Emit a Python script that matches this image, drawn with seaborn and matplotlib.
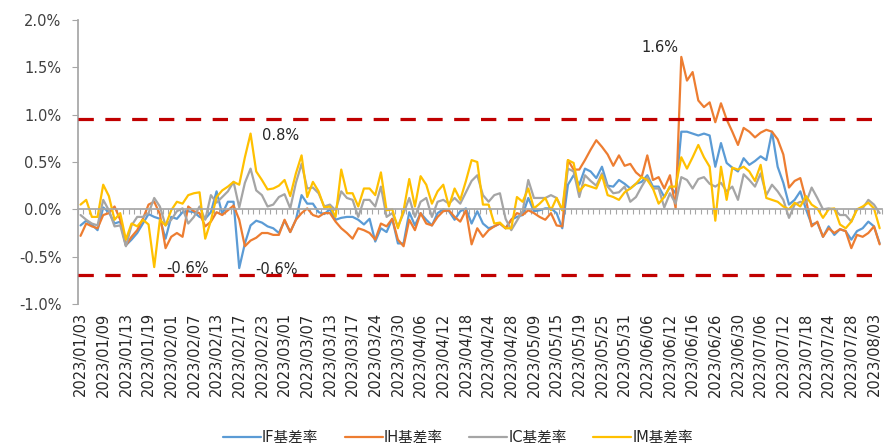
import numpy as np
import pandas as pd
import matplotlib
matplotlib.use("Agg")
import matplotlib.pyplot as plt
import seaborn as sns

sns.set_theme(style="white")
plt.rcParams["font.family"] = ["DejaVu Sans", "Noto Sans CJK SC"]

# ------------------------------------------------------------
# Data: daily basis rate (%) of the four index futures
# ------------------------------------------------------------
HOLIDAYS = ["2023-01-23", "2023-01-24", "2023-01-25", "2023-01-26", "2023-01-27",
            "2023-03-22",  # no record in the source table
            "2023-04-05", "2023-05-01", "2023-05-02", "2023-05-03",
            "2023-06-22", "2023-06-23"]
DATES = [d for d in pd.bdate_range("2023-01-03", "2023-08-04")
         if d.strftime("%Y-%m-%d") not in HOLIDAYS]

IF_BASIS = [
    -0.17, -0.12, -0.16, -0.22, 0.02, -0.03, -0.15, -0.13, -0.38, -0.32, -0.25, -0.15,
    -0.05, -0.08, -0.10, -0.31, -0.08, -0.10, -0.03, -0.02, -0.03, -0.08, -0.10,
    -0.03, 0.19, -0.05, 0.08, 0.08, -0.62, -0.36, -0.17, -0.12, -0.14, -0.18, -0.20,
    -0.25, -0.12, -0.24, -0.11, 0.15, 0.06, 0.06, -0.03, -0.05,
    0.00, -0.11, -0.09, -0.08, -0.08, -0.11, -0.16, -0.10, -0.34, -0.20, -0.24, -0.10,
    -0.36, -0.36, -0.03, -0.17, -0.04, -0.11, -0.17, -0.04, 0.00, -0.02, -0.11, -0.02,
    0.01, -0.15,
    -0.02, -0.15, -0.20, -0.18, -0.15, -0.20, -0.11, -0.08, -0.06, 0.12, -0.02, -0.01,
    0.01, 0.01, -0.04, -0.20, 0.26, 0.36, 0.26, 0.43,
    0.40, 0.33, 0.45, 0.25, 0.24, 0.31, 0.27, 0.22, 0.27, 0.29, 0.36, 0.24, 0.24, 0.13,
    0.24, 0.17, 0.82, 0.82, 0.80, 0.78, 0.80, 0.78, 0.45,
    0.70, 0.49, 0.44, 0.40, 0.54, 0.47, 0.51, 0.56, 0.52, 0.82, 0.45, 0.28, 0.05, 0.10,
    0.19, 0.00, -0.16, -0.14, -0.29, -0.18, -0.27, -0.21, -0.23, -0.32, -0.23, -0.20,
    -0.13, -0.18, -0.36,
]
IH_BASIS = [
    -0.28, -0.15, -0.18, -0.20, -0.06, -0.04, 0.03, -0.11, -0.38, -0.29, -0.22, -0.10,
    0.05, 0.08, -0.05, -0.41, -0.29, -0.25, -0.29, 0.03, -0.02, -0.04, -0.18,
    -0.13, -0.03, -0.06, -0.01, 0.04, -0.11, -0.39, -0.33, -0.30, -0.25, -0.25, -0.27,
    -0.27, -0.11, -0.24, -0.11, -0.04, 0.01, -0.06, -0.08, -0.04,
    -0.04, -0.13, -0.20, -0.25, -0.31, -0.20, -0.22, -0.25, -0.32, -0.15, -0.18, -0.10,
    -0.32, -0.39, -0.11, -0.22, -0.04, -0.15, -0.17, -0.08, -0.02, -0.01, -0.08, -0.13,
    -0.01, -0.37,
    -0.20, -0.29, -0.22, -0.18, -0.15, -0.20, -0.11, -0.04, -0.06, -0.01, -0.04, -0.08,
    -0.11, -0.04, -0.17, -0.18, 0.52, 0.42, 0.42, 0.52,
    0.63, 0.73, 0.66, 0.58, 0.46, 0.57, 0.46, 0.48, 0.39, 0.34, 0.57, 0.31, 0.34, 0.22,
    0.36, 0.01, 1.61, 1.36, 1.45, 1.15, 1.08, 1.13, 0.92,
    1.12, 0.95, 0.82, 0.68, 0.86, 0.82, 0.76, 0.81, 0.84, 0.82, 0.74, 0.58, 0.23, 0.30,
    0.33, 0.10, -0.18, -0.13, -0.29, -0.20, -0.25, -0.21, -0.23, -0.41, -0.27, -0.29,
    -0.25, -0.18, -0.37,
]
IC_BASIS = [
    -0.06, -0.11, -0.15, -0.17, 0.10, -0.01, -0.18, -0.17, -0.39, -0.17, -0.08, -0.08,
    -0.04, 0.12, 0.03, -0.17, -0.11, -0.02, 0.01, -0.15, -0.08, 0.03, -0.11,
    0.15, 0.07, 0.13, 0.19, 0.29, 0.02, 0.28, 0.43, 0.20, 0.15, 0.03, 0.05,
    0.13, 0.16, 0.01, 0.28, 0.48, 0.22, 0.23, 0.17, 0.03,
    0.05, -0.01, 0.19, 0.12, 0.10, -0.08, 0.10, 0.10, 0.03, 0.24, -0.08, -0.04,
    -0.18, -0.04, 0.12, -0.08, 0.08, 0.12, -0.08, 0.08, 0.10, 0.06, 0.12, 0.06,
    0.18, 0.30,
    0.36, 0.15, 0.08, 0.15, 0.17, -0.10, -0.22, -0.12, -0.02, 0.31, 0.12, 0.12,
    0.12, 0.15, 0.12, -0.01, 0.43, 0.40, 0.13, 0.36,
    0.30, 0.25, 0.38, 0.24, 0.17, 0.18, 0.24, 0.08, 0.13, 0.24, 0.34, 0.22, 0.22, 0.02,
    0.17, 0.06, 0.34, 0.31, 0.22, 0.32, 0.34, 0.27, 0.24,
    0.28, 0.19, 0.24, 0.10, 0.37, 0.31, 0.24, 0.38, 0.15, 0.26, 0.19, 0.10, -0.09, 0.05,
    0.08, 0.07, 0.23, 0.12, 0.00, 0.01, 0.00, -0.06, -0.06, -0.13, 0.00, 0.01,
    0.10, 0.05, -0.04,
]
IM_BASIS = [
    0.05, 0.10, -0.08, -0.08, 0.26, 0.14, -0.11, -0.04, -0.32, -0.15, -0.18, -0.11,
    -0.16, -0.61, -0.11, -0.17, -0.01, 0.08, 0.06, 0.15, 0.17, 0.18, -0.31,
    -0.12, 0.13, 0.20, 0.24, 0.29, 0.26, 0.55, 0.80, 0.40, 0.31, 0.21, 0.22,
    0.25, 0.31, 0.14, 0.38, 0.57, 0.13, 0.29, 0.19, 0.02,
    0.03, -0.08, 0.42, 0.17, 0.17, 0.03, 0.22, 0.22, 0.15, 0.39, -0.01, 0.00,
    -0.20, -0.01, 0.32, 0.03, 0.35, 0.26, 0.06, 0.19, 0.26, 0.03, 0.22, 0.10,
    0.30, 0.52,
    0.50, 0.05, 0.05, -0.15, -0.14, -0.20, -0.20, 0.13, 0.08, 0.22, 0.01, 0.06,
    0.12, -0.01, 0.12, -0.01, 0.52, 0.49, 0.19, 0.26,
    0.24, 0.22, 0.36, 0.15, 0.13, 0.10, 0.18, 0.22, 0.27, 0.34, 0.31, 0.22, 0.06, 0.13,
    0.24, 0.24, 0.55, 0.43, 0.55, 0.68, 0.55, 0.45, -0.12,
    0.45, 0.10, 0.44, 0.42, 0.45, 0.40, 0.30, 0.47, 0.12, 0.10, 0.08, 0.03, 0.00, 0.07,
    0.03, 0.14, 0.05, 0.01, -0.09, 0.00, 0.01, -0.16, -0.20, -0.13, 0.00, 0.03,
    0.07, 0.01, -0.20,
]

SERIES_NAMES = ["IF基差率", "IH基差率", "IC基差率", "IM基差率"]
COLORS = ["#5B9BD5", "#ED7D31", "#A5A5A5", "#FFC000"]
UPPER_BAND = 0.95
LOWER_BAND = -0.69
Y_TICKS = [-1.0, -0.5, 0.0, 0.5, 1.0, 1.5, 2.0]
LABEL_STEP = 4

# ------------------------------------------------------------
# Build long table for seaborn
# ------------------------------------------------------------
n = len(DATES)
wide = pd.DataFrame({"idx": np.arange(n)})
for name, vals in zip(SERIES_NAMES, [IF_BASIS, IH_BASIS, IC_BASIS, IM_BASIS]):
    wide[name] = vals
long = wide.melt(id_vars="idx", var_name="series", value_name="basis")

fig = plt.figure(figsize=(8.84, 4.48), dpi=100)
ax = fig.add_axes([0.0879, 0.3214, 0.9104, 0.634])

sns.lineplot(data=long, x="idx", y="basis", hue="series",
             hue_order=SERIES_NAMES, palette=dict(zip(SERIES_NAMES, COLORS)),
             linewidth=1.6, errorbar=None, ax=ax)

# threshold bands
for level in (UPPER_BAND, LOWER_BAND):
    ax.axhline(level, color="#C00000", lw=2.3, ls=(0, (4.8, 3.6)), zorder=5)

ax.set_xlim(-0.5, n - 0.5)
ax.set_ylim(Y_TICKS[0], Y_TICKS[-1])
ax.set_xlabel("")
ax.set_ylabel("")

# y axis
ax.set_yticks(Y_TICKS)
ax.set_yticklabels([f"{v:.1f}%" for v in Y_TICKS])
ax.tick_params(axis="y", left=True, length=4.3, width=0.8, color="#A6A6A6",
               pad=7.5, labelsize=10.5, labelcolor="#404040")

# spines: zero line as category axis with small ticks
for side in ("top", "right"):
    ax.spines[side].set_visible(False)
ax.spines["left"].set_color("#A6A6A6")
ax.spines["bottom"].set_position(("data", 0))
ax.spines["bottom"].set_color("#A6A6A6")
ax.set_xticks([])
ax.set_xticks(np.arange(-0.5, n, 1), minor=True)
ax.tick_params(axis="x", which="minor", bottom=True, length=3.5, width=0.8,
               color="#A6A6A6", direction="out")

# date labels at the bottom of the plot
sec = ax.secondary_xaxis(0.0)
sec.set_ticks(np.arange(0, n, LABEL_STEP),
              labels=[d.strftime("%Y/%m/%d") for d in DATES[::LABEL_STEP]])
sec.spines["bottom"].set_visible(False)
sec.tick_params(axis="x", length=0, pad=6, labelsize=10.5, rotation=90,
                labelcolor="#262626")

# annotations
ax.text(102.2, 1.71, "1.6%", ha="center", va="center", fontsize=10.5, color="#262626")
ax.text(35.3, 0.78, "0.8%", ha="center", va="center", fontsize=10.5, color="#262626")
ax.text(18.9, -0.62, "-0.6%", ha="center", va="center", fontsize=10.5, color="#262626")
ax.text(34.5, -0.64, "-0.6%", ha="center", va="center", fontsize=10.5, color="#262626")

sns.move_legend(ax, loc="center", bbox_to_anchor=(458 / 884, 0.024),
                bbox_transform=fig.transFigure, ncol=4, frameon=False,
                title=None, fontsize=10.5, handlelength=2.6,
                handletextpad=0.1, columnspacing=1.8)

fig.savefig("out.png", dpi=100)
